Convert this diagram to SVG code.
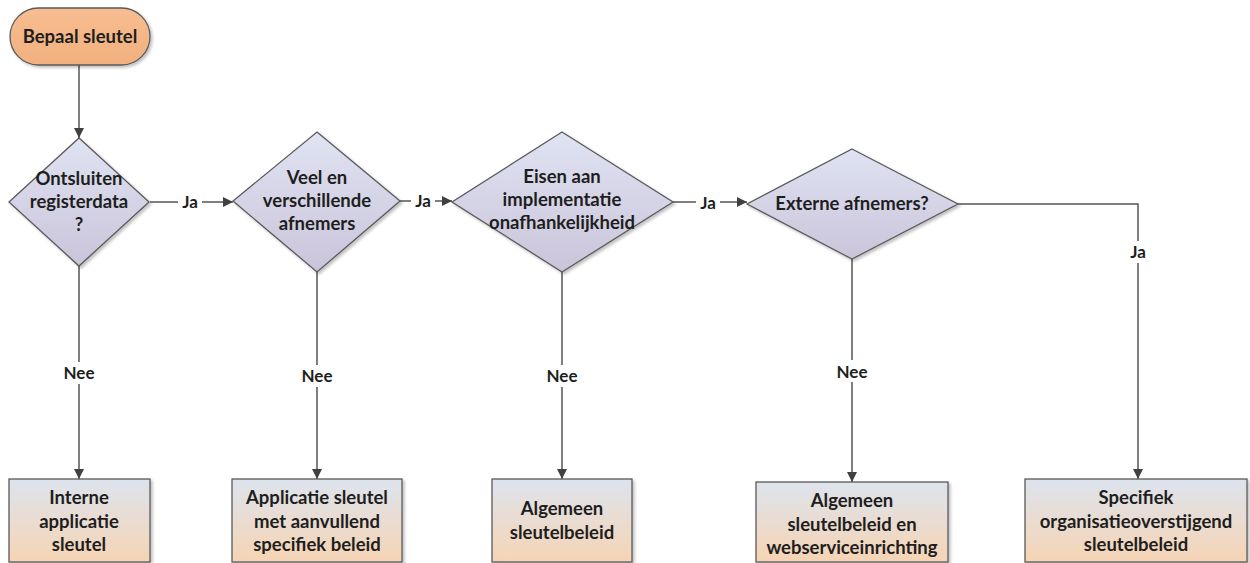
<svg xmlns="http://www.w3.org/2000/svg" width="1250" height="563" viewBox="0 0 1250 563">
  <defs>
    <linearGradient id="gDecision" x1="0" y1="0" x2="0" y2="1">
      <stop offset="0" stop-color="#dfe3f2"/>
      <stop offset="1" stop-color="#cbc4da"/>
    </linearGradient>
    <linearGradient id="gResult" x1="0" y1="0" x2="0" y2="1">
      <stop offset="0" stop-color="#dde4ee"/>
      <stop offset="1" stop-color="#f6d4b4"/>
    </linearGradient>
    <linearGradient id="gStart" x1="0" y1="0" x2="0" y2="1">
      <stop offset="0" stop-color="#f7bd90"/>
      <stop offset="1" stop-color="#f2b07e"/>
    </linearGradient>
    <filter id="shadow" x="-10%" y="-10%" width="125%" height="125%">
      <feGaussianBlur in="SourceAlpha" stdDeviation="1.5"/>
      <feOffset dx="2" dy="2"/>
      <feComponentTransfer><feFuncA type="linear" slope="0.25"/></feComponentTransfer>
      <feMerge><feMergeNode/><feMergeNode in="SourceGraphic"/></feMerge>
    </filter>
    <marker id="arrow" viewBox="0 0 10 10" refX="10" refY="5" markerWidth="10" markerHeight="10" markerUnits="userSpaceOnUse" orient="auto">
      <path d="M0,0 L10,5 L0,10 z" fill="#404040"/>
    </marker>
  </defs>
  <style>
    .shape { stroke: #5a5a5a; stroke-width: 1.3; filter: url(#shadow); }
    .decision { fill: url(#gDecision); }
    .result { fill: url(#gResult); }
    .start { fill: url(#gStart); }
    text { font-family: Lato, "Open Sans", "Liberation Sans", sans-serif; font-weight: bold; font-size: 18.5px; fill: #1e1e1e; text-anchor: middle; }
    .edge { fill: none; stroke: #555555; stroke-width: 1.5; }
    .lblbg { fill: #ffffff; }
    .lbl { font-size: 17px; }
  </style>
  <rect width="1250" height="563" fill="#ffffff"/>

  <g id="connectors">
    <path class="edge" d="M79,65 V138" marker-end="url(#arrow)"/>
    <path class="edge" d="M150,202 H233" marker-end="url(#arrow)"/>
    <path class="edge" d="M400,201 H452" marker-end="url(#arrow)"/>
    <path class="edge" d="M673,202 H747" marker-end="url(#arrow)"/>
    <path class="edge" d="M958,204 H1138 V479" marker-end="url(#arrow)"/>
    <path class="edge" d="M79,266 V479" marker-end="url(#arrow)"/>
    <path class="edge" d="M317,272 V479" marker-end="url(#arrow)"/>
    <path class="edge" d="M562,272 V479" marker-end="url(#arrow)"/>
    <path class="edge" d="M852,259 V482" marker-end="url(#arrow)"/>
    <!-- edge labels -->
    <rect class="lblbg" x="178" y="192" width="24" height="20"/>
    <text class="lbl" x="190" y="208">Ja</text>
    <rect class="lblbg" x="411" y="191" width="24" height="20"/>
    <text class="lbl" x="423" y="207">Ja</text>
    <rect class="lblbg" x="696" y="192" width="24" height="20"/>
    <text class="lbl" x="708" y="209">Ja</text>
    <rect class="lblbg" x="1126" y="241" width="24" height="22"/>
    <text class="lbl" x="1138" y="258">Ja</text>
    <rect class="lblbg" x="60" y="362" width="38" height="22"/>
    <text class="lbl" x="79" y="379">Nee</text>
    <rect class="lblbg" x="298" y="365" width="38" height="22"/>
    <text class="lbl" x="317" y="382">Nee</text>
    <rect class="lblbg" x="543" y="365" width="38" height="22"/>
    <text class="lbl" x="562" y="382">Nee</text>
    <rect class="lblbg" x="833" y="360" width="38" height="22"/>
    <text class="lbl" x="852" y="378">Nee</text>
  </g>

  <g id="start">
    <rect class="shape start" x="10" y="8" width="140" height="57" rx="28.5"/>
    <text x="80" y="43">Bepaal sleutel</text>
  </g>

  <g id="q-registerdata">
    <polygon class="shape decision" points="79,138 149,202 79,266 9,202"/>
    <text x="79" y="185">Ontsluiten</text>
    <text x="79" y="208">registerdata</text>
    <text x="79" y="231">?</text>
  </g>

  <g id="q-afnemers">
    <polygon class="shape decision" points="317,132 400,201 317,272 233,201"/>
    <text x="317" y="184">Veel en</text>
    <text x="317" y="207">verschillende</text>
    <text x="317" y="230">afnemers</text>
  </g>

  <g id="q-implementatie">
    <polygon class="shape decision" points="562,132 673,202 562,272 452,202"/>
    <text x="562" y="183">Eisen aan</text>
    <text x="562" y="206">implementatie</text>
    <text x="562" y="229">onafhankelijkheid</text>
  </g>

  <g id="q-extern">
    <polygon class="shape decision" points="852,149 958,204 852,259 747,204"/>
    <text x="852" y="210">Externe afnemers?</text>
  </g>

  <g id="r-intern">
    <rect class="shape result" x="9" y="479" width="141" height="83"/>
    <text x="79" y="504">Interne</text>
    <text x="79" y="528">applicatie</text>
    <text x="79" y="551">sleutel</text>
  </g>

  <g id="r-applicatie">
    <rect class="shape result" x="232" y="479" width="170" height="83"/>
    <text x="317" y="504">Applicatie sleutel</text>
    <text x="317" y="528">met aanvullend</text>
    <text x="317" y="551">specifiek beleid</text>
  </g>

  <g id="r-algemeen">
    <rect class="shape result" x="492" y="479" width="140" height="83"/>
    <text x="562" y="515">Algemeen</text>
    <text x="562" y="539">sleutelbeleid</text>
  </g>

  <g id="r-webservice">
    <rect class="shape result" x="756" y="482" width="192" height="80"/>
    <text x="852" y="507">Algemeen</text>
    <text x="852" y="531">sleutelbeleid en</text>
    <text x="852" y="554">webserviceinrichting</text>
  </g>

  <g id="r-specifiek">
    <rect class="shape result" x="1025" y="479" width="222" height="83"/>
    <text x="1136" y="504">Specifiek</text>
    <text x="1136" y="528">organisatieoverstijgend</text>
    <text x="1136" y="551">sleutelbeleid</text>
  </g>
</svg>
